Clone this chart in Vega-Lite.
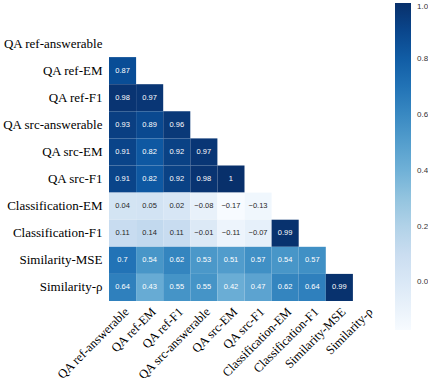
{
  "$schema": "https://vega.github.io/schema/vega-lite/v6.json",
  "width": 271,
  "height": 271,
  "autosize": {"type": "none"},
  "padding": {"left": 109, "top": 30, "right": 48, "bottom": 77},
  "background": "white",
  "data": {"values": [
    {"r": "QA ref-EM", "c": "QA ref-answerable", "v": 0.87},
    {"r": "QA ref-F1", "c": "QA ref-answerable", "v": 0.98},
    {"r": "QA ref-F1", "c": "QA ref-EM", "v": 0.97},
    {"r": "QA src-answerable", "c": "QA ref-answerable", "v": 0.93},
    {"r": "QA src-answerable", "c": "QA ref-EM", "v": 0.89},
    {"r": "QA src-answerable", "c": "QA ref-F1", "v": 0.96},
    {"r": "QA src-EM", "c": "QA ref-answerable", "v": 0.91},
    {"r": "QA src-EM", "c": "QA ref-EM", "v": 0.82},
    {"r": "QA src-EM", "c": "QA ref-F1", "v": 0.92},
    {"r": "QA src-EM", "c": "QA src-answerable", "v": 0.97},
    {"r": "QA src-F1", "c": "QA ref-answerable", "v": 0.91},
    {"r": "QA src-F1", "c": "QA ref-EM", "v": 0.82},
    {"r": "QA src-F1", "c": "QA ref-F1", "v": 0.92},
    {"r": "QA src-F1", "c": "QA src-answerable", "v": 0.98},
    {"r": "QA src-F1", "c": "QA src-EM", "v": 1},
    {"r": "Classification-EM", "c": "QA ref-answerable", "v": 0.04},
    {"r": "Classification-EM", "c": "QA ref-EM", "v": 0.05},
    {"r": "Classification-EM", "c": "QA ref-F1", "v": 0.02},
    {"r": "Classification-EM", "c": "QA src-answerable", "v": -0.08},
    {"r": "Classification-EM", "c": "QA src-EM", "v": -0.17},
    {"r": "Classification-EM", "c": "QA src-F1", "v": -0.13},
    {"r": "Classification-F1", "c": "QA ref-answerable", "v": 0.11},
    {"r": "Classification-F1", "c": "QA ref-EM", "v": 0.14},
    {"r": "Classification-F1", "c": "QA ref-F1", "v": 0.11},
    {"r": "Classification-F1", "c": "QA src-answerable", "v": -0.01},
    {"r": "Classification-F1", "c": "QA src-EM", "v": -0.11},
    {"r": "Classification-F1", "c": "QA src-F1", "v": -0.07},
    {"r": "Classification-F1", "c": "Classification-EM", "v": 0.99},
    {"r": "Similarity-MSE", "c": "QA ref-answerable", "v": 0.7},
    {"r": "Similarity-MSE", "c": "QA ref-EM", "v": 0.54},
    {"r": "Similarity-MSE", "c": "QA ref-F1", "v": 0.62},
    {"r": "Similarity-MSE", "c": "QA src-answerable", "v": 0.53},
    {"r": "Similarity-MSE", "c": "QA src-EM", "v": 0.51},
    {"r": "Similarity-MSE", "c": "QA src-F1", "v": 0.57},
    {"r": "Similarity-MSE", "c": "Classification-EM", "v": 0.54},
    {"r": "Similarity-MSE", "c": "Classification-F1", "v": 0.57},
    {"r": "Similarity-ρ", "c": "QA ref-answerable", "v": 0.64},
    {"r": "Similarity-ρ", "c": "QA ref-EM", "v": 0.43},
    {"r": "Similarity-ρ", "c": "QA ref-F1", "v": 0.55},
    {"r": "Similarity-ρ", "c": "QA src-answerable", "v": 0.55},
    {"r": "Similarity-ρ", "c": "QA src-EM", "v": 0.42},
    {"r": "Similarity-ρ", "c": "QA src-F1", "v": 0.47},
    {"r": "Similarity-ρ", "c": "Classification-EM", "v": 0.62},
    {"r": "Similarity-ρ", "c": "Classification-F1", "v": 0.64},
    {"r": "Similarity-ρ", "c": "Similarity-MSE", "v": 0.99}
  ]},
  "encoding": {
    "x": {"field": "c", "type": "nominal",
      "scale": {"domain": ["QA ref-answerable","QA ref-EM","QA ref-F1","QA src-answerable","QA src-EM","QA src-F1","Classification-EM","Classification-F1","Similarity-MSE","Similarity-ρ"], "paddingInner": 0, "paddingOuter": 0},
      "axis": {"title": null, "labelAngle": -45, "labelAlign": "right", "labelBaseline": "top", "ticks": false, "domain": false, "labelPadding": 4, "labelFont": "Liberation Serif", "labelFontSize": 12.5, "labelColor": "black", "labelLimit": 200}},
    "y": {"field": "r", "type": "nominal",
      "scale": {"domain": ["QA ref-answerable","QA ref-EM","QA ref-F1","QA src-answerable","QA src-EM","QA src-F1","Classification-EM","Classification-F1","Similarity-MSE","Similarity-ρ"], "paddingInner": 0, "paddingOuter": 0},
      "axis": {"title": null, "ticks": false, "domain": false, "labelPadding": 7, "labelFont": "Liberation Serif", "labelFontSize": 13, "labelColor": "black", "labelLimit": 200}}
  },
  "layer": [
    {"mark": {"type": "rect"},
     "encoding": {"color": {"field": "v", "type": "quantitative",
       "scale": {"domain": [-0.17, -0.02375, 0.1225, 0.26875, 0.415, 0.56125, 0.7075, 0.85375, 1.0],
                 "range": ["#f7fbff","#deebf7","#c6dbef","#9ecae1","#6baed6","#4292c6","#2171b5","#08519c","#08306b"]},
       "legend": {"title": null, "orient": "none", "legendX": 286, "legendY": -27, "direction": "vertical", "gradientLength": 327, "gradientThickness": 16, "values": [0, 0.2, 0.4, 0.6, 0.8, 1.0], "format": ".1f", "labelFont": "Liberation Sans", "labelFontSize": 8, "labelColor": "#333", "labelOffset": 6}}}},
    {"mark": {"type": "text", "font": "Liberation Sans", "fontSize": 7.5},
     "encoding": {"text": {"field": "v", "type": "quantitative", "format": ".2~g"},
       "color": {"condition": {"test": "datum.v > 0.3", "value": "white"}, "value": "#262626"}}}
  ],
  "config": {"view": {"stroke": null}}
}
